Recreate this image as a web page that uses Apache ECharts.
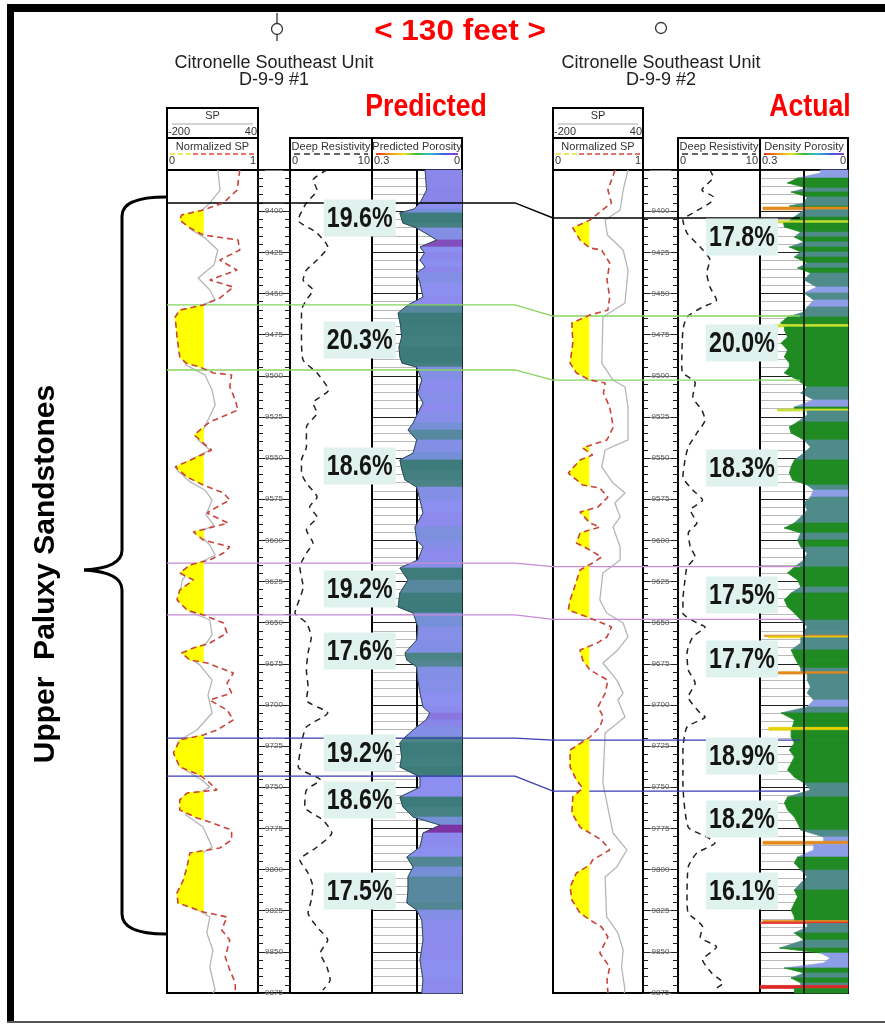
<!DOCTYPE html>
<html>
<head>
<meta charset="UTF-8">
<title>Upper Paluxy Sandstones</title>
<script src="https://cdn.jsdelivr.net/npm/echarts@6/dist/echarts.min.js"></script>
<style>
html,body{margin:0;padding:0;background:#fff;}
#chart{width:885px;height:1025px;}
</style>
</head>
<body>
<div id="chart"></div>
<script>
// depth range of the log tracks (ft)
var depthTop = 9375, depthBase = 9875;

// D-9-9 #1, each point is [depth, value]
var w1NormSP = [[9375,0.80],[9387.2,0.77],[9395,0.62],[9399.3,0.40],[9402.3,0.16],[9405.4,0.14],[9410.2,0.25],[9414.5,0.40],[9417.5,0.78],[9423.6,0.80],[9429.7,0.58],[9435.8,0.77],[9441.8,0.47],[9446.1,0.73],[9452.8,0.58],[9457,0.40],[9460.1,0.14],[9464.3,0.09],[9476.5,0.11],[9488.6,0.14],[9492.3,0.21],[9494.7,0.36],[9498.3,0.51],[9499.5,0.71],[9506.8,0.69],[9514.7,0.75],[9520.8,0.78],[9528.1,0.47],[9533,0.36],[9536,0.30],[9540.9,0.40],[9545.1,0.49],[9549.4,0.33],[9555.4,0.09],[9561.5,0.22],[9566.4,0.40],[9571.2,0.62],[9575.5,0.69],[9579.7,0.55],[9583.4,0.44],[9589.5,0.67],[9594.9,0.29],[9599.8,0.40],[9604,0.69],[9607.7,0.62],[9611.9,0.47],[9615,0.25],[9619.8,0.14],[9624.1,0.29],[9630.2,0.14],[9636.2,0.11],[9642.3,0.22],[9645.3,0.40],[9650.2,0.62],[9656.3,0.66],[9662.4,0.47],[9665.4,0.29],[9668.4,0.16],[9672.7,0.25],[9674.5,0.44],[9680.6,0.73],[9686.7,0.66],[9692.8,0.71],[9697,0.47],[9703.1,0.66],[9709.1,0.73],[9715.2,0.55],[9718.2,0.40],[9721.3,0.14],[9729.2,0.07],[9737.7,0.14],[9742.5,0.36],[9747.4,0.47],[9751.7,0.55],[9753.5,0.22],[9757.7,0.14],[9763.8,0.14],[9768.7,0.33],[9771.1,0.47],[9776,0.71],[9782,0.71],[9786.9,0.58],[9789.9,0.25],[9798.4,0.22],[9806.3,0.18],[9814.2,0.11],[9820.3,0.12],[9825.8,0.40],[9828.8,0.66],[9836.7,0.60],[9842.8,0.69],[9853.1,0.64],[9861,0.69],[9868.9,0.75],[9875,0.75]];
var w1SP = [[9375,-66],[9387.2,-60],[9395,-87],[9400.5,-113],[9404.2,-150],[9411.5,-134],[9416.3,-100],[9423.6,-66],[9432.7,-76],[9440.6,-118],[9447.9,-87],[9454,-73],[9457.6,-113],[9463.1,-166],[9478.3,-168],[9493.5,-150],[9499.5,-100],[9508.7,-81],[9517.8,-73],[9526.9,-92],[9539,-118],[9545.1,-87],[9551.2,-139],[9557.3,-174],[9564.5,-139],[9569.4,-100],[9575.5,-81],[9584.6,-97],[9590.7,-76],[9595.5,-118],[9602.8,-87],[9608.9,-73],[9615,-126],[9624.1,-160],[9636.2,-168],[9643.5,-139],[9648.4,-87],[9657.5,-81],[9663.6,-100],[9669.6,-150],[9675.8,-113],[9684.9,-81],[9694,-92],[9704.9,-81],[9715.2,-121],[9721.3,-166],[9730.4,-176],[9739.5,-152],[9745.6,-108],[9749.9,-87],[9757.7,-150],[9766.9,-150],[9774.2,-105],[9786.3,-81],[9794.2,-134],[9806.3,-152],[9818.5,-163],[9828.8,-87],[9838.5,-95],[9848.9,-79],[9859.2,-87],[9873.2,-73],[9875,-79]];
var w1Res = [[9375,4.5],[9381.1,2.8],[9387.2,3.3],[9395,2.0],[9405.4,1.0],[9413.3,3.3],[9421.8,4.6],[9429.7,3.3],[9435.8,2.0],[9441.8,1.6],[9447.9,2.8],[9454,2.0],[9460.1,1.4],[9476.5,1.4],[9490.4,1.6],[9498.3,3.3],[9508.7,4.7],[9516.6,2.8],[9522.6,3.3],[9531.1,2.0],[9543.3,2.0],[9551.2,1.4],[9559.1,1.4],[9565.2,2.0],[9573.7,3.3],[9579.7,2.4],[9585.8,3.3],[9593.7,2.0],[9601.6,2.8],[9607.7,2.0],[9616.2,1.2],[9628.3,1.6],[9640.5,0.8],[9644.1,0.6],[9650.2,2.0],[9658.7,2.6],[9668.4,2.2],[9678.8,2.0],[9689.1,2.2],[9697,2.0],[9704.9,4.6],[9713.4,2.0],[9723.1,1.4],[9737.7,1.0],[9745.6,3.7],[9751.7,2.0],[9762,1.8],[9769.9,4.0],[9777.8,5.1],[9786.3,3.3],[9794.2,1.2],[9802.1,2.2],[9810.6,2.8],[9818.5,2.6],[9826.4,2.2],[9834.9,3.3],[9842.8,4.6],[9850.7,3.7],[9859.2,4.5],[9867.1,4.9],[9873.2,4.0]];
var w1Por = [[9375,0.123],[9387.2,0.118],[9395,0.14],[9398.7,0.16],[9401.1,0.207],[9407.2,0.197],[9410.2,0.151],[9417.5,0.084],[9421.8,0.14],[9425.4,0.125],[9429.7,0.14],[9433.9,0.123],[9437.6,0.151],[9443.7,0.14],[9452.2,0.13],[9457,0.18],[9461.9,0.213],[9469.2,0.205],[9476.5,0.201],[9482.5,0.21],[9488.6,0.207],[9492.3,0.2],[9494.7,0.151],[9502.6,0.134],[9510.5,0.147],[9516.6,0.13],[9522.6,0.147],[9528.7,0.163],[9533,0.18],[9539,0.151],[9547,0.163],[9551.2,0.207],[9557.3,0.2],[9563.3,0.19],[9567.6,0.151],[9575.5,0.14],[9583.4,0.13],[9591.9,0.157],[9599.8,0.151],[9604,0.13],[9611.9,0.147],[9616.8,0.207],[9624.1,0.18],[9632,0.207],[9640.5,0.213],[9644.1,0.163],[9652.6,0.147],[9660.5,0.151],[9668.4,0.19],[9672.7,0.184],[9676.9,0.151],[9684.9,0.147],[9692.8,0.14],[9701.2,0.13],[9704.9,0.107],[9709.1,0.12],[9713.4,0.151],[9719.5,0.19],[9723.1,0.207],[9731.6,0.201],[9737.7,0.207],[9743.8,0.14],[9749.9,0.14],[9755.9,0.207],[9762,0.197],[9768.1,0.163],[9773,0.073],[9777.8,0.13],[9786.3,0.14],[9792.4,0.184],[9798.4,0.163],[9804.5,0.18],[9812.4,0.18],[9820.3,0.184],[9824.6,0.151],[9830.6,0.134],[9842.8,0.13],[9854.9,0.14],[9867.1,0.13],[9875,0.134]];
var w1ZoneDepth = [9404.2, 9478.3, 9554.8, 9629.6, 9667.2, 9729.2, 9757.7, 9813.0];
var w1ZoneText = ['19.6%', '20.3%', '18.6%', '19.2%', '17.6%', '19.2%', '18.6%', '17.5%'];
var w1Tops = [9395.0, 9457.0, 9496.5, 9613.8, 9645.3, 9720.2, 9743.3];

// D-9-9 #2
var w2NormSP = [[9375,0.69],[9387.2,0.61],[9395,0.65],[9405.4,0.41],[9410.2,0.22],[9417.5,0.30],[9422.4,0.41],[9423.6,0.54],[9431.5,0.63],[9441.8,0.60],[9452.2,0.63],[9460.1,0.61],[9463.1,0.41],[9467.9,0.21],[9480.1,0.22],[9492.3,0.19],[9498.3,0.26],[9502.6,0.41],[9504.4,0.58],[9510.5,0.56],[9519,0.63],[9531.1,0.67],[9539,0.60],[9540.9,0.49],[9543.9,0.33],[9548.1,0.44],[9551.2,0.30],[9559.1,0.17],[9566.4,0.33],[9568.2,0.52],[9573.7,0.61],[9579.7,0.50],[9582.8,0.30],[9589.5,0.41],[9591.9,0.52],[9595.5,0.30],[9601.6,0.26],[9605.9,0.41],[9610.1,0.54],[9613.8,0.44],[9618,0.30],[9628.3,0.24],[9636.2,0.19],[9642.3,0.17],[9647.2,0.41],[9652.6,0.65],[9658.7,0.60],[9662.4,0.49],[9666.6,0.30],[9672.7,0.33],[9678.8,0.41],[9684.9,0.61],[9692.8,0.58],[9701.2,0.50],[9707.3,0.56],[9713.4,0.52],[9719.5,0.41],[9727.4,0.19],[9737.7,0.19],[9745.6,0.26],[9750.5,0.33],[9755.9,0.22],[9765.6,0.21],[9774.2,0.30],[9777.8,0.41],[9782,0.54],[9788.1,0.63],[9794.2,0.44],[9797.2,0.41],[9802.1,0.26],[9810.6,0.19],[9818.5,0.21],[9826.4,0.30],[9830.6,0.41],[9834.9,0.54],[9841,0.61],[9850.7,0.52],[9859.2,0.63],[9867.1,0.60],[9875,0.61]];
var w2SP = [[9375,0],[9387.2,-13],[9399.3,-21],[9405.4,-61],[9414.5,-55],[9423.6,-13],[9435.8,0],[9455.8,-8],[9464.3,-67],[9492.3,-70],[9502.6,-40],[9506.8,-8],[9519,0],[9539,0],[9545.1,-61],[9555.4,-70],[9565.2,-40],[9571.2,-8],[9577.3,-35],[9585.8,-21],[9591.9,-40],[9604,-21],[9611.9,-21],[9619.8,-67],[9636.2,-75],[9644.1,-57],[9650.2,-13],[9658.7,0],[9666.6,-27],[9674.5,-67],[9684.9,-30],[9692.8,-13],[9697,-27],[9707.3,-8],[9717,-61],[9747.4,-67],[9777.8,-40],[9788.1,-3],[9798.4,-30],[9804.5,-61],[9828.8,-57],[9838.5,-27],[9848.9,-13],[9859.2,-17],[9873.2,-8],[9875,-10]];
var w2Res = [[9375,3.9],[9379.3,4.3],[9387.2,2.9],[9391.4,4.3],[9395,3.9],[9401.1,1.8],[9405.4,0.6],[9413.3,1.1],[9421.8,2.7],[9429.7,3.9],[9437.6,3.5],[9446.1,3.9],[9454,4.7],[9458.2,3.0],[9464.3,1.1],[9472.2,0.6],[9494.7,0.45],[9498.3,0.6],[9504.4,2.1],[9512.9,1.8],[9520.8,2.9],[9526.9,3.3],[9534.8,2.3],[9543.3,1.25],[9551.2,0.85],[9561.5,0.6],[9569.4,1.8],[9575.5,3.0],[9581.6,1.5],[9589.5,2.3],[9595.5,1.25],[9604,1.5],[9610.1,2.1],[9616.2,1.1],[9624.1,0.85],[9636.2,0.6],[9644.1,0.6],[9650.2,2.3],[9652.6,3.3],[9658.7,1.8],[9668.4,1.1],[9678.8,1.25],[9686.7,2.1],[9695.2,1.25],[9704.9,2.7],[9707.3,3.3],[9713.4,1.1],[9727.4,0.6],[9747.4,0.6],[9774.2,1.25],[9780.2,3.5],[9783.9,4.5],[9789.9,2.3],[9798.4,1.25],[9818.5,1.1],[9826.4,1.25],[9834.9,3.0],[9841,2.7],[9847,4.7],[9854.9,3.0],[9862.8,4.1],[9868.9,5.5],[9873.2,4.3]];
var w2Por = [[9375,0.094],[9376.8,0.094],[9379.9,0.172],[9382.9,0.206],[9385.9,0.139],[9388.4,0.194],[9391.4,0.139],[9395,0.15],[9396.9,0.20],[9397.5,0.17],[9397.5,0.29],[9399.2,0.29],[9399.2,0.15],[9403.6,0.183],[9405.8,0.2],[9405.8,0.245],[9407.2,0.245],[9407.2,0.22],[9409.6,0.217],[9412.7,0.161],[9415.7,0.183],[9418.7,0.15],[9421.8,0.2],[9424.8,0.161],[9427.9,0.183],[9431.5,0.139],[9434.5,0.172],[9437.6,0.128],[9441.8,0.15],[9446.1,0.106],[9449.7,0.15],[9454,0.117],[9458.2,0.139],[9461.3,0.15],[9464.3,0.206],[9467.9,0.23],[9468.8,0.22],[9468.8,0.25],[9470.4,0.25],[9470.4,0.217],[9472.2,0.217],[9476.5,0.206],[9480.1,0.228],[9484.4,0.206],[9488.6,0.217],[9492.3,0.2],[9494.7,0.2],[9498.3,0.217],[9502.6,0.172],[9506.8,0.139],[9510.5,0.161],[9514.7,0.117],[9519,0.183],[9520.2,0.183],[9520.2,0.24],[9521.4,0.24],[9521.4,0.14],[9523.8,0.139],[9528.1,0.172],[9531.1,0.2],[9534.8,0.194],[9539,0.15],[9543.3,0.128],[9547,0.15],[9551.2,0.183],[9555.4,0.194],[9559.1,0.2],[9563.3,0.189],[9566.4,0.139],[9569.4,0.117],[9573.7,0.128],[9577.3,0.15],[9581.6,0.139],[9585.8,0.161],[9589.5,0.183],[9592.5,0.217],[9595.5,0.161],[9599.8,0.172],[9604,0.161],[9607.7,0.139],[9611.9,0.15],[9616.2,0.183],[9619.8,0.206],[9624.1,0.172],[9628.3,0.161],[9632,0.194],[9636.2,0.217],[9640.5,0.206],[9644.1,0.183],[9648.4,0.161],[9652.6,0.139],[9655.6,0.15],[9657.6,0.15],[9657.6,0.285],[9658.4,0.285],[9658.4,0.27],[9659.2,0.27],[9659.2,0.161],[9662.4,0.161],[9666.6,0.194],[9670.9,0.183],[9674.5,0.172],[9677.6,0.161],[9679.8,0.161],[9679.8,0.285],[9681.2,0.285],[9681.2,0.139],[9684.9,0.139],[9689.1,0.128],[9692.8,0.139],[9697,0.117],[9701.2,0.139],[9704.9,0.228],[9709.1,0.183],[9713.6,0.19],[9713.6,0.27],[9715.4,0.27],[9715.4,0.194],[9719.5,0.194],[9723.1,0.183],[9727.4,0.2],[9731.6,0.183],[9735.3,0.194],[9739.5,0.206],[9743.8,0.183],[9747.4,0.15],[9751.7,0.128],[9755.9,0.206],[9759.6,0.217],[9763.8,0.206],[9768.1,0.183],[9771.7,0.172],[9776,0.161],[9780.2,0.083],[9782.8,0.083],[9782.8,0.29],[9784.6,0.29],[9784.6,0.117],[9788.1,0.117],[9792.4,0.172],[9796,0.183],[9800.3,0.161],[9804.5,0.139],[9808.2,0.161],[9812.4,0.183],[9816.7,0.172],[9820.3,0.183],[9824.6,0.194],[9828.8,0.183],[9831,0.183],[9831,0.29],[9832,0.29],[9832,0.3],[9832.8,0.3],[9832.8,0.139],[9834.9,0.139],[9838.5,0.183],[9842.8,0.15],[9847.7,0.233],[9850.7,0.094],[9853.7,0.061],[9856.8,0.083],[9859.8,0.217],[9862.8,0.15],[9865.9,0.194],[9868.9,0.161],[9870.4,0.161],[9870.4,0.3],[9872.2,0.3],[9872.2,0.183],[9875,0.183]];
var w2ZoneDepth = [9415.7, 9480.1, 9556.0, 9633.2, 9672.1, 9731.0, 9769.3, 9813.0];
var w2ZoneText = ['17.8%', '20.0%', '18.3%', '17.5%', '17.7%', '18.9%', '18.2%', '16.1%'];
var w2Tops = [9404.2, 9463.7, 9502.6, 9616.0, 9648.0, 9721.4, 9752.4];

var SP_CUTOFF = 0.4;
var SANS = '"Liberation Sans", Arial, sans-serif';

var chart = echarts.init(document.getElementById('chart'));

// track geometry [left, width] of each well
var TOP = 170, H = 823;
var layout = [
  {sp: [167, 91], dep: [258, 32], res: [290, 82], por: [372, 90], labelX: 8.5, porTitle: 'Predicted Porosity'},
  {sp: [553, 90], dep: [643, 35], res: [678, 82], por: [760, 88], labelX: 7.8, porTitle: 'Density Porosity'}
];
var wells = [
  {nsp: w1NormSP, sp: w1SP, res: w1Res, por: w1Por, zd: w1ZoneDepth, zt: w1ZoneText},
  {nsp: w2NormSP, sp: w2SP, res: w2Res, por: w2Por, zd: w2ZoneDepth, zt: w2ZoneText}
];

function xy(arr) { return arr.map(function (p) { return [p[1], p[0]]; }); }

function spFill(pts, cut) {
  return function (params, api) {
    var i = params.dataIndex;
    if (i >= pts.length - 1) return null;
    var a = pts[i], b = pts[i + 1], poly;
    if (a[0] >= cut && b[0] >= cut) return null;
    if (a[0] < cut && b[0] < cut) {
      poly = [a, b, [cut, b[1]], [cut, a[1]]];
    } else {
      var t = (cut - a[0]) / (b[0] - a[0]);
      var m = [cut, a[1] + t * (b[1] - a[1])];
      poly = a[0] < cut ? [a, m, [cut, a[1]]] : [m, b, [cut, b[1]]];
    }
    return {type: 'polygon', shape: {points: poly.map(function (p) { return api.coord(p); })},
      style: {fill: '#ffff00', stroke: '#ffff00', lineWidth: 0.6}};
  };
}

function porFill(pts) {
  return function (params, api) {
    var i = params.dataIndex;
    if (i >= pts.length - 1) return null;
    var a = pts[i], b = pts[i + 1];
    if (a[1] === b[1]) return null;
    var c = api.visual('color');
    return {type: 'polygon',
      shape: {points: [api.coord(a), api.coord(b), api.coord([0, b[1]]), api.coord([0, a[1]])]},
      style: {fill: c, stroke: c, lineWidth: 0.7}};
  };
}

function zoneLabel(texts) {
  return function (params, api) {
    var p = api.coord([api.value(0), api.value(1)]);
    return {type: 'group', x: p[0], y: p[1], scaleX: 0.8, children: [
      {type: 'rect', shape: {x: -45, y: -18.5, width: 90, height: 37}, style: {fill: '#e0f2ee'}},
      {type: 'text', style: {text: texts[params.dataIndex], x: 0, y: 1, fontSize: 29, fontWeight: 'bold',
        fontFamily: SANS, fill: '#151515', align: 'center', verticalAlign: 'middle',
        textAlign: 'center', textVerticalAlign: 'middle'}}
    ]};
  };
}

function depthAxis(grid, extra) {
  var o = {type: 'value', gridIndex: grid, inverse: true, min: depthTop, max: depthBase, interval: 25, show: false};
  for (var k in extra) o[k] = extra[k];
  return o;
}

var grids = [], xAxes = [], yAxes = [], series = [], porSeries = [];
var tick = {show: true, inside: true, length: 7, lineStyle: {color: '#222', width: 1}};
var minor = {show: true, splitNumber: 5, length: 5, lineStyle: {color: '#222', width: 1}};

layout.forEach(function (L, w) {
  var g = grids.length, a = w * 5, D = wells[w];
  [L.sp, L.dep, L.res, L.por].forEach(function (t) {
    grids.push({left: t[0], width: t[1], top: TOP, height: H, show: true, borderColor: '#000', borderWidth: 2});
  });
  xAxes.push({type: 'value', gridIndex: g, min: 0, max: 1, show: false});
  xAxes.push({type: 'value', gridIndex: g, min: -200, max: 40, show: false});
  xAxes.push({type: 'value', gridIndex: g + 1, min: 0, max: 1, show: false});
  xAxes.push({type: 'value', gridIndex: g + 2, min: 0, max: 10, show: false});
  xAxes.push({type: 'value', gridIndex: g + 3, min: 0, max: 0.3, inverse: true, interval: 0.15, show: true,
    axisLine: {show: false}, axisTick: {show: false}, axisLabel: {show: false},
    splitLine: {show: true, lineStyle: {color: '#000', width: 2}}});

  yAxes.push(depthAxis(g, {}));
  yAxes.push(depthAxis(g + 1, {show: true, position: 'left', axisLine: {show: false}, axisTick: tick, minorTick: minor,
    splitLine: {show: true, lineStyle: {color: '#777', width: 1}},
    axisLabel: {show: true, inside: true, margin: L.dep[1] / 2, align: 'center', fontSize: 8, color: '#555',
      fontFamily: SANS, showMinLabel: false, formatter: function (v) { return String(v); }}}));
  yAxes.push(depthAxis(g + 1, {show: true, position: 'right', axisLine: {show: false}, axisTick: tick, minorTick: minor,
    splitLine: {show: false}, axisLabel: {show: false}}));
  yAxes.push(depthAxis(g + 2, {}));
  yAxes.push(depthAxis(g + 3, {show: true, axisLine: {show: false}, axisTick: {show: false}, axisLabel: {show: false},
    splitLine: {show: true, lineStyle: {color: '#222', width: 1}},
    minorTick: {show: false, splitNumber: 5},
    minorSplitLine: {show: true, lineStyle: {color: '#b8b8b8', width: 1}}}));

  var nsp = xy(D.nsp), por = xy(D.por);
  series.push({type: 'line', name: 'SP', xAxisIndex: a + 1, yAxisIndex: a, data: xy(D.sp), showSymbol: false,
    lineStyle: {color: '#b5b5b5', width: 1.3}, z: 2, silent: true});
  series.push({type: 'custom', name: 'SP sand', xAxisIndex: a, yAxisIndex: a, data: nsp,
    encode: {x: 0, y: 1}, renderItem: spFill(nsp, SP_CUTOFF), z: 3, silent: true});
  series.push({type: 'line', name: 'Normalized SP', xAxisIndex: a, yAxisIndex: a, data: nsp, showSymbol: false,
    lineStyle: {color: '#c8453b', width: 1.6, type: [6, 4]}, z: 4, silent: true});
  series.push({type: 'line', name: 'Deep Resistivity', xAxisIndex: a + 3, yAxisIndex: a + 3, data: xy(D.res),
    showSymbol: false, smooth: 0.2, lineStyle: {color: '#222', width: 1.5, type: [6, 5]}, z: 2, silent: true});
  porSeries.push(series.length);
  var porS = {type: 'custom', name: L.porTitle, xAxisIndex: a + 4, yAxisIndex: a + 4, data: por,
    encode: {x: 0, y: 1}, renderItem: porFill(por), z: 2, silent: true};
  if (w === 1) {
    // the 0.15 division stays visible over the measured log
    porS.markLine = {silent: true, symbol: 'none', animation: false, label: {show: false},
      lineStyle: {color: '#111', width: 1.5, type: 'solid'}, data: [{xAxis: 0.15}]};
  }
  series.push(porS);
  if (w === 0) {
    series.push({type: 'line', name: 'porosity edge', xAxisIndex: a + 4, yAxisIndex: a + 4, data: por,
      showSymbol: false, lineStyle: {color: '#2f4e56', width: 1}, z: 2, silent: true});
  }
  series.push({type: 'custom', name: 'zone porosity', xAxisIndex: a + 3, yAxisIndex: a + 3, z: 10, silent: true,
    encode: {x: 0, y: 1},
    data: D.zd.map(function (d) { return [L.labelX, d]; }),
    renderItem: zoneLabel(D.zt)});
});

// static drawing: frame, titles, track headers, brace
var gfx = [];
function T(x, y, s, size, align, extra) {
  var st = {text: s, x: 0, y: 0, fontSize: size, fontFamily: SANS, fill: '#333', align: align || 'center',
    verticalAlign: 'middle', textAlign: align || 'center', textVerticalAlign: 'middle'};
  var e = {type: 'text', x: x, y: y, style: st};
  if (extra) for (var k in extra) { if (k === 'style') { for (var q in extra.style) st[q] = extra.style[q]; } else e[k] = extra[k]; }
  return e;
}
function Ln(x1, y1, x2, y2, stroke, w, dash) {
  return {type: 'line', shape: {x1: x1, y1: y1, x2: x2, y2: y2}, style: {stroke: stroke, lineWidth: w, lineDash: dash || null}};
}
function Curve(x1, y1, cx, cy, x2, y2) {
  return {type: 'bezierCurve', shape: {x1: x1, y1: y1, cpx1: cx, cpy1: cy, x2: x2, y2: y2},
    style: {fill: null, stroke: '#000', lineWidth: 3}};
}
function Box(x, y, w, h) {
  return {type: 'rect', shape: {x: x, y: y, width: w, height: h}, style: {fill: '#fff', stroke: '#000', lineWidth: 2}};
}

gfx.push({type: 'rect', shape: {x: 7, y: 4, width: 878, height: 8}, style: {fill: '#000'}});
gfx.push({type: 'rect', shape: {x: 7, y: 4, width: 7, height: 1019}, style: {fill: '#000'}});
gfx.push(Ln(7, 1022, 885, 1022, '#555', 2));

gfx.push(T(460, 32, '< 130 feet >', 30, 'center', {scaleX: 1.05, style: {fill: '#ff0000', fontWeight: 'bold'}}));
gfx.push({type: 'circle', shape: {cx: 277, cy: 29, r: 5.5}, style: {fill: '#fff', stroke: '#333', lineWidth: 1.3}});
gfx.push(Ln(277, 13, 277, 23.5, '#333', 1.3));
gfx.push(Ln(277, 34.5, 277, 41, '#333', 1.3));
gfx.push({type: 'circle', shape: {cx: 661, cy: 28, r: 5.5}, style: {fill: '#fff', stroke: '#333', lineWidth: 1.3}});
gfx.push(T(274, 63, 'Citronelle Southeast Unit', 18, 'center', {style: {fill: '#222'}}));
gfx.push(T(274, 80, 'D-9-9 #1', 18, 'center', {style: {fill: '#222'}}));
gfx.push(T(661, 63, 'Citronelle Southeast Unit', 18, 'center', {style: {fill: '#222'}}));
gfx.push(T(661, 80, 'D-9-9 #2', 18, 'center', {style: {fill: '#222'}}));
gfx.push(T(426, 107, 'Predicted', 31, 'center', {scaleX: 0.86, style: {fill: '#ff0000', fontWeight: 'bold'}}));
gfx.push(T(810, 107, 'Actual', 31, 'center', {scaleX: 0.86, style: {fill: '#ff0000', fontWeight: 'bold'}}));
gfx.push(T(46, 574, 'Upper  Paluxy Sandstones', 30, 'center', {rotation: Math.PI / 2, style: {fill: '#000', fontWeight: 'bold'}}));
// curly brace spanning the sandstone interval
gfx.push(Curve(166, 197, 122, 197, 122, 216));
gfx.push(Ln(122, 216, 122, 550, '#000', 3));
gfx.push(Curve(122, 550, 122, 568, 84, 570));
gfx.push(Curve(84, 570, 122, 572, 122, 590));
gfx.push(Ln(122, 590, 122, 914, '#000', 3));
gfx.push(Curve(122, 914, 122, 934, 166, 934));

var rainbow = {type: 'linear', x: 0, y: 0, x2: 1, y2: 0, colorStops: [
  {offset: 0, color: '#e8321e'}, {offset: 0.18, color: '#f29a12'}, {offset: 0.34, color: '#e6e21a'},
  {offset: 0.5, color: '#3cb43c'}, {offset: 0.66, color: '#2ec0c8'}, {offset: 0.82, color: '#3c64e0'},
  {offset: 1, color: '#8a3cc8'}]};

layout.forEach(function (L) {
  var sx = L.sp[0], sw = L.sp[1], rx = L.res[0], rw = L.res[1], px = L.por[0], pw = L.por[1];
  gfx.push(Box(sx, 108, sw, 62));
  gfx.push(Ln(sx, 138, sx + sw, 138, '#000', 2));
  gfx.push(T(sx + sw / 2, 116, 'SP', 11));
  gfx.push(Ln(sx + 5, 124, sx + sw - 5, 124, '#aaa', 1.2));
  gfx.push(T(sx + 1, 131.5, '-200', 11, 'left'));
  gfx.push(T(sx + sw - 1, 131.5, '40', 11, 'right'));
  gfx.push(T(sx + sw / 2, 146.5, 'Normalized SP', 11));
  gfx.push(Ln(sx + 3, 154, sx + 24, 154, '#e8e020', 1.6, [5, 3]));
  gfx.push(Ln(sx + 26, 154, sx + sw - 3, 154, '#d0483e', 1.6, [5, 3]));
  gfx.push(T(sx + 2, 161, '0', 11, 'left'));
  gfx.push(T(sx + sw - 2, 161, '1', 11, 'right'));

  gfx.push(Box(rx, 138, rw, 32));
  gfx.push(T(rx + rw / 2, 146.5, 'Deep Resistivity', 11));
  gfx.push(Ln(rx + 4, 154, rx + rw - 4, 154, '#333', 1.6, [6, 4]));
  gfx.push(T(rx + 2, 161, '0', 11, 'left'));
  gfx.push(T(rx + rw - 2, 161, '10', 11, 'right'));

  gfx.push(Box(px, 138, pw, 32));
  gfx.push(T(px + pw / 2, 146.5, L.porTitle, 11));
  gfx.push({type: 'rect', shape: {x: px + 4, y: 153, width: pw - 8, height: 2}, style: {fill: rainbow}});
  gfx.push(T(px + 2, 161, '0.3', 11, 'left'));
  gfx.push(T(px + pw - 2, 161, '0', 11, 'right'));
});
gfx.forEach(function (e, i) { e.id = 's' + i; });

var option = {
  backgroundColor: '#fff',
  animation: false,
  textStyle: {fontFamily: SANS},
  grid: grids,
  xAxis: xAxes,
  yAxis: yAxes,
  visualMap: [
    {type: 'continuous', show: false, seriesIndex: porSeries[0], dimension: 0, min: 0.07, max: 0.21,
      inRange: {color: ['#7c2c9e', '#8763cf', '#8a84e8', '#8d8ff0', '#7590d6', '#4d8589', '#3b7b79']}},
    {type: 'piecewise', show: false, seriesIndex: porSeries[1], dimension: 0,
      pieces: [
        {lt: 0.125, color: '#8e9ee6'},
        {gte: 0.125, lt: 0.165, color: '#4f8b89'},
        {gte: 0.165, lt: 0.235, color: '#1f8b22'},
        {gte: 0.235, lt: 0.26, color: '#c8e032'},
        {gte: 0.26, lt: 0.28, color: '#e6d200'},
        {gte: 0.28, lt: 0.296, color: '#e38a1c'},
        {gte: 0.296, color: '#e02626'}
      ]}
  ],
  graphic: {elements: gfx},
  series: series
};
chart.setOption(option);

// formation tops correlated between the two wells
var topColors = ['#000000', '#86d35e', '#86d35e', '#c88ad8', '#c88ad8', '#3b3bb6', '#3b3bb6'];
var topLines = w1Tops.map(function (d1, k) {
  var y1 = chart.convertToPixel({xAxisIndex: 0, yAxisIndex: 0}, [0, d1])[1];
  var y2 = chart.convertToPixel({xAxisIndex: 5, yAxisIndex: 5}, [0, w2Tops[k]])[1];
  return {type: 'polyline', id: 'top' + k, z: 3,
    shape: {points: [[167, y1], [515, y1], [553, y2], [800, y2]]},
    style: {fill: null, stroke: topColors[k], lineWidth: k === 0 ? 1.5 : 1.3}};
});
chart.setOption({graphic: {elements: topLines}});
</script>
</body>
</html>
